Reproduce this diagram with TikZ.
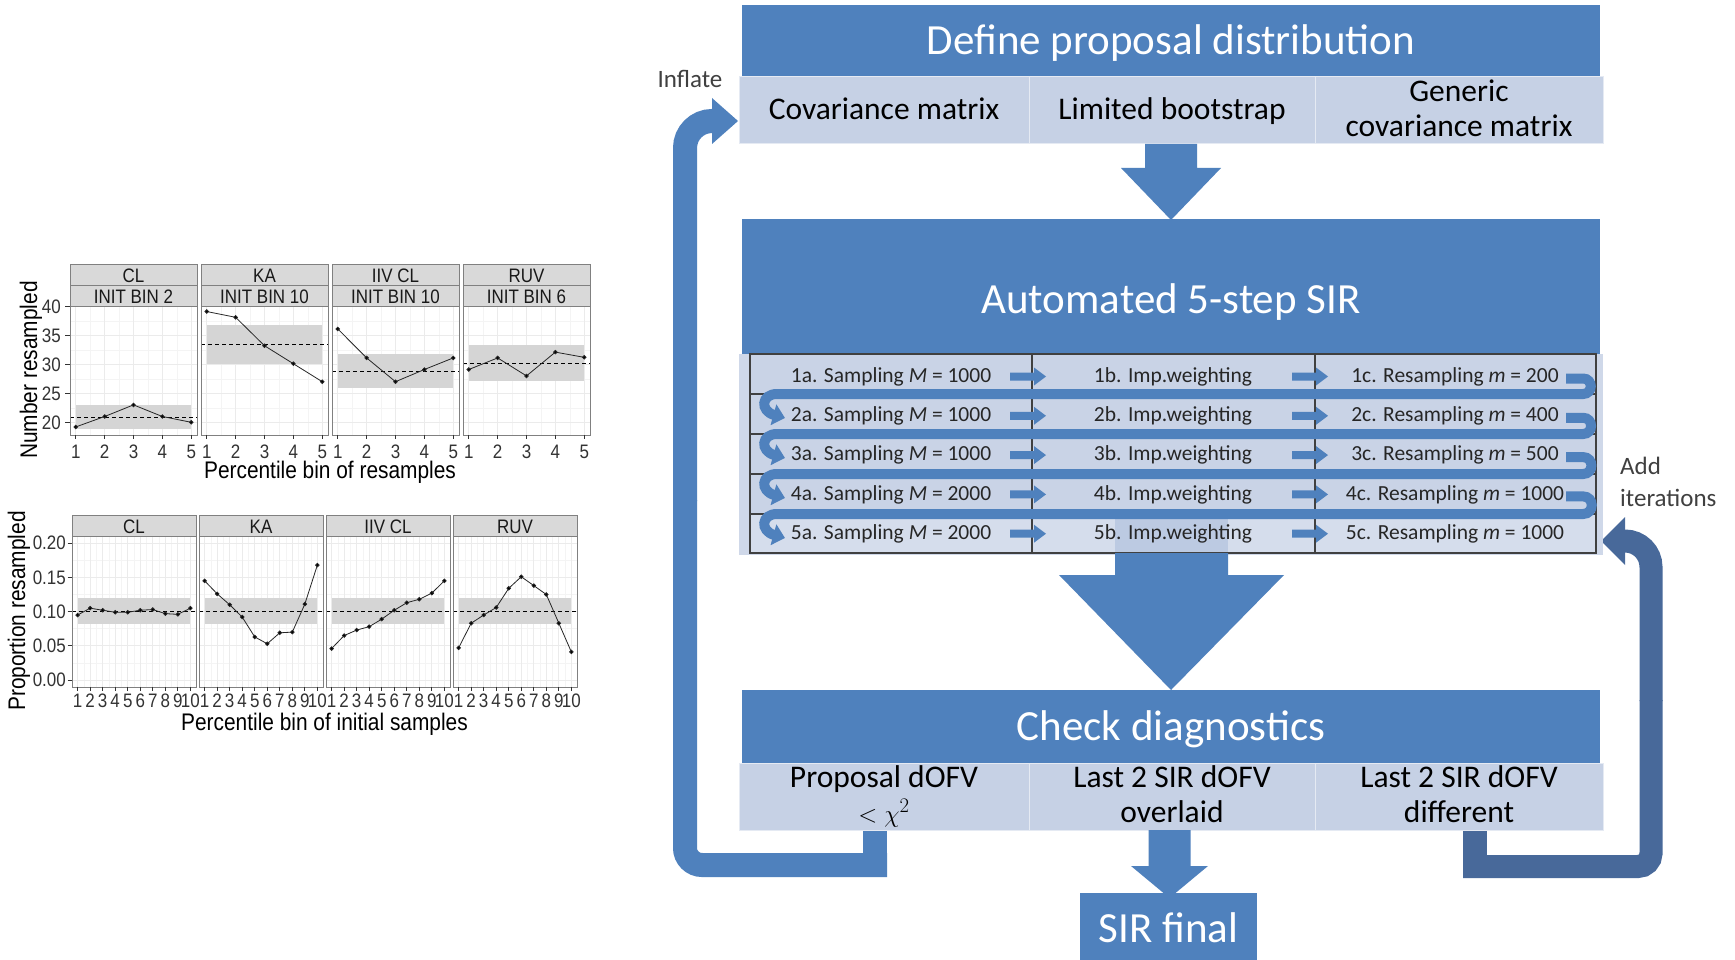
\documentclass[tikz,border=0pt]{standalone}
\usepackage{fontspec}
\setmainfont{Carlito}
\newfontfamily\plotfont{Liberation Sans}[FakeStretch=0.87]
\usetikzlibrary{arrows.meta}

\definecolor{boxblue}{HTML}{4F81BD}
\definecolor{cellblue}{HTML}{C6D1E5}
\definecolor{tablebg}{HTML}{CFD8E9}
\definecolor{rowblue}{HTML}{C9D3E6}
\definecolor{rowpale}{HTML}{D5DDEC}
\definecolor{shaftpale}{HTML}{BCCAE2}
\definecolor{loopdark}{HTML}{48699A}
\definecolor{stripgray}{HTML}{D9D9D9}
\definecolor{gridmaj}{HTML}{EBEBEB}
\definecolor{gridmin}{HTML}{F4F4F4}
\definecolor{bandgray}{HTML}{D5D5D5}
\definecolor{framegray}{HTML}{808080}
\definecolor{inkgray}{HTML}{333333}

\newcommand\setfs[2]{\fontsize{#1}{#2}\selectfont}

% one facet of the upper plot: #1 left edge, #2/#3 strip lines,
% #4/#5 shaded interval, #6 reference level, #7 points
\newcommand\TopPanel[7]{%
  \node[stripbox, minimum width=127pt, minimum height=21pt] at ({#1+63.5},274.5) {};
  \node[stripbox, minimum width=127pt, minimum height=21pt] at ({#1+63.5},295.5) {};
  \node[striptext] at ({#1+63.5},282) {#2};
  \node[striptext] at ({#1+63.5},303) {#3};
  \begin{scope}[shift={({#1-23.09},538.3)},x=28.864pt,y=5.8pt]
    \fill[white] (0.8,17.81) rectangle (5.2,40.05);
    \foreach \gx in {1.5,2.5,3.5,4.5} \draw[gridminor] (\gx,17.81) -- (\gx,40.05);
    \foreach \gy in {22.5,27.5,32.5,37.5} \draw[gridminor] (0.8,\gy) -- (5.2,\gy);
    \foreach \gx in {1,...,5} \draw[gridmajor] (\gx,17.81) -- (\gx,40.05);
    \foreach \gy in {20,25,30,35,40} \draw[gridmajor] (0.8,\gy) -- (5.2,\gy);
    \fill[bandgray] (1,#4) rectangle (5,#5);
    \draw[refline] (0.8,#6) -- (5.2,#6);
    \draw[dataline] plot coordinates {#7};
    \draw[panelframe] (0.8,17.81) rectangle (5.2,40.05);
    \foreach \gx in {1,...,5} {
      \draw[tickmark] (\gx,17.81) -- ++(0pt,-4pt);
      \path (\gx,17.81) ++(0pt,-23pt) node[ticklabel, anchor=base] {\gx};
    }
  \end{scope}}

% one facet of the lower plot: #1 left edge, #2 strip label, #3 points
\newcommand\BottomPanel[3]{%
  \node[stripbox, minimum width=124pt, minimum height=21pt] at ({#1+62},525.5) {};
  \node[striptext] at ({#1+62},533) {#2};
  \begin{scope}[shift={({#1-6.889},680)},x=12.525pt,y=684pt]
    \fill[white] (0.55,-0.0102) rectangle (10.45,0.2105);
    \foreach \gx in {1.5,2.5,...,9.5} \draw[gridminor] (\gx,-0.0102) -- (\gx,0.2105);
    \foreach \gy in {0.025,0.075,0.125,0.175} \draw[gridminor] (0.55,\gy) -- (10.45,\gy);
    \foreach \gx in {1,...,10} \draw[gridmajor] (\gx,-0.0102) -- (\gx,0.2105);
    \foreach \gy in {0,0.05,0.1,0.15,0.2} \draw[gridmajor] (0.55,\gy) -- (10.45,\gy);
    \fill[bandgray] (1,0.082) rectangle (10,0.120);
    \draw[refline] (0.55,0.1) -- (10.45,0.1);
    \draw[dataline] plot coordinates {#3};
    \draw[panelframe] (0.55,-0.0102) rectangle (10.45,0.2105);
    \foreach \gx in {1,...,10} {
      \draw[tickmark] (\gx,-0.0102) -- ++(0pt,-4pt);
      \path (\gx,-0.0102) ++(0pt,-21pt) node[ticklabel, anchor=base] {\gx};
    }
  \end{scope}}

\begin{document}
\begin{tikzpicture}[x=1pt,y=-1pt,
  bluebox/.style={fill=boxblue, inner sep=0pt, outer sep=0pt},
  cellbox/.style={fill=cellblue, draw=white!55!cellblue, line width=1pt, inner sep=0pt, outer sep=0pt},
  hdrtext/.style={text=white, font=\setfs{43}{50}, anchor=base, inner sep=0pt},
  celltext/.style={text=black, font=\setfs{31.5}{36}, anchor=base, inner sep=0pt},
  rowtext/.style={text=black!85, font=\setfs{21.5}{25}, anchor=base, inner sep=0pt},
  sidenote/.style={text=black!75, font=\setfs{25}{28}, inner sep=0pt},
  blockarrow/.style={fill=boxblue},
  tablerule/.style={draw=black!75, line width=1.2pt},
  serp/.style={draw=boxblue, line width=10pt, -{Triangle[length=12pt,width=21pt]}},
  loopband/.style={line width=24pt},
  stripbox/.style={fill=stripgray, draw=framegray, line width=0.8pt, inner sep=0pt, outer sep=0pt},
  striptext/.style={text=black!90, font=\plotfont\setfs{19.5}{22}, anchor=base, inner sep=0pt},
  ticklabel/.style={text=inkgray, font=\plotfont\setfs{19.5}{22}, inner sep=0pt},
  axistitle/.style={text=black, font=\plotfont\setfs{24}{27}, inner sep=0pt},
  gridmajor/.style={draw=gridmaj, line width=1pt},
  gridminor/.style={draw=gridmin, line width=0.6pt},
  panelframe/.style={draw=framegray, line width=0.8pt},
  refline/.style={draw=black, line width=0.8pt, dash pattern=on 4pt off 3pt},
  dataline/.style={draw=black!85, line width=0.8pt, mark=*, mark size=1.8pt, mark options={solid, fill=black}},
  tickmark/.style={draw=inkgray, line width=0.8pt},
]
\useasboundingbox (0,0) rectangle (1735,960);
\fill[white] (0,0) rectangle (1735,960);

% ---------------- upper facet plot ----------------
\TopPanel{70}{CL}{INIT BIN 2}{18.9}{22.9}{20.8}{(1,19.2) (2,21) (3,23) (4,21) (5,20)}
\TopPanel{201}{KA}{INIT BIN 10}{30.0}{36.8}{33.4}{(1,39.1) (2,38.1) (3,33.2) (4,30.1) (5,27)}
\TopPanel{332}{IIV CL}{INIT BIN 10}{26.0}{31.8}{28.7}{(1,36.1) (2,31.1) (3,27) (4,29.1) (5,31.1)}
\TopPanel{463}{RUV}{INIT BIN 6}{27.2}{33.3}{30.1}{(1,29.1) (2,31.1) (3,28) (4,32.1) (5,31.2)}
\foreach \v/\py in {20/422.3, 25/393.3, 30/364.3, 35/335.3, 40/306.3} {
  \node[ticklabel, anchor=east] at (61,\py) {\v};
  \draw[tickmark] (65,\py) -- (70,\py);
}
\node[axistitle, rotate=90] (ytop) at (31,370) {Number resampled};
\node[axistitle, anchor=base] (xtop) at (330,478) {Percentile bin of resamples};

% ---------------- lower facet plot ----------------
\BottomPanel{72}{CL}{(1,0.095) (2,0.105) (3,0.102) (4,0.099) (5,0.099) (6,0.102) (7,0.103) (8,0.097) (9,0.096) (10,0.105)}
\BottomPanel{199}{KA}{(1,0.145) (2,0.126) (3,0.110) (4,0.092) (5,0.063) (6,0.053) (7,0.069) (8,0.070) (9,0.111) (10,0.168)}
\BottomPanel{326}{IIV CL}{(1,0.046) (2,0.065) (3,0.073) (4,0.078) (5,0.089) (6,0.102) (7,0.113) (8,0.118) (9,0.127) (10,0.145)}
\BottomPanel{453}{RUV}{(1,0.047) (2,0.083) (3,0.095) (4,0.106) (5,0.134) (6,0.151) (7,0.138) (8,0.125) (9,0.083) (10,0.041)}
\foreach \v/\py in {0.00/680, 0.05/645.8, 0.10/611.6, 0.15/577.4, 0.20/543.2} {
  \node[ticklabel, anchor=east] at (66,\py) {\v};
  \draw[tickmark] (67.5,\py) -- (72,\py);
}
\node[axistitle, rotate=90] (ybot) at (19,611) {Proportion resampled};
\node[axistitle, anchor=base] (xbot) at (324.5,730.5) {Percentile bin of initial samples};

% ---------------- feedback loops (behind the boxes) ----------------
\fill[boxblue] (863,830) rectangle (887,877);
\draw[boxblue, loopband, rounded corners=17pt] (887,865) -- (685,865) -- (685,500);
\draw[boxblue, loopband, rounded corners=27pt] (685,501) -- (685,121) -- (713,121);
\fill[boxblue] (712,98) -- (738,121) -- (712,144) -- cycle;

\fill[loopdark] (1463,830) rectangle (1487,878);
\draw[loopdark, line width=23pt, rounded corners=13pt] (1463,866.5) -- (1651,866.5) -- (1651,700);
\draw[loopdark, line width=23pt, rounded corners=26pt] (1651,701) -- (1651,541) -- (1623,541);
\fill[loopdark] (1625,517) -- (1601,541) -- (1625,565) -- cycle;

% ---------------- proposal distribution ----------------
\node[bluebox, minimum width=858pt, minimum height=72pt] (define) at (1171,41) {};
\node[hdrtext] (defineT) at (1171,55) {Define proposal distribution};
\node[cellbox, minimum width=290pt, minimum height=67pt] (covcell) at (884,110.5) {};
\node[cellbox, minimum width=286pt, minimum height=67pt] (bootcell) at (1172,110.5) {};
\node[cellbox, minimum width=288pt, minimum height=67pt] (genericcell) at (1459,110.5) {};
\node[celltext] (covT) at (884,120) {Covariance matrix};
\node[celltext] (bootT) at (1172,120) {Limited bootstrap};
\node[celltext] (genT1) at (1459,102) {Generic};
\node[celltext] (genT2) at (1459,137) {covariance matrix};

\fill[blockarrow] (1145,144) -- (1197,144) -- (1197,168) -- (1221,168) -- (1171,220) -- (1121,168) -- (1145,168) -- cycle;

% ---------------- automated SIR ----------------
\node[bluebox, minimum width=858pt, minimum height=135pt] (auto) at (1171,286.5) {};
\node[hdrtext] (autoT) at (1171,313) {Automated 5-step SIR};

\fill[tablebg] (739,354) rectangle (1603,555);
\fill[rowblue] (750,354) rectangle (1596,514);
\fill[rowpale] (750,514) rectangle (1596,553);
\fill[shaftpale] (1115,514) rectangle (1228,553);
\draw[tablerule] (750,354) rectangle (1596,553);
\foreach \cx in {1032,1315} \draw[tablerule] (\cx,354) -- (\cx,553);
\foreach \ry in {394,434,474,514} \draw[tablerule] (750,\ry) -- (1596,\ry);

\foreach \k/\yc/\Ms/\ms in {1/375.5/1000/200, 2/414.8/1000/400, 3/454.1/1000/500, 4/493.4/2000/1000, 5/532.7/2000/1000} {
  \node[rowtext] (a\k) at (891,{\yc+6.8}) {\k a. Sampling \textit{M} = \Ms};
  \node[rowtext] (b\k) at (1173,{\yc+6.8}) {\k b. Imp.weighting};
  \node[rowtext] (c\k) at (1455,{\yc+6.8}) {\k c. Resampling \textit{m} = \ms};
  \fill[blockarrow] (1010,{\yc-3}) -- (1034,{\yc-3}) -- (1034,{\yc-8}) -- (1046,{\yc+1}) -- (1034,{\yc+10}) -- (1034,{\yc+5}) -- (1010,{\yc+5}) -- cycle;
  \fill[blockarrow] (1292,{\yc-3}) -- (1316,{\yc-3}) -- (1316,{\yc-8}) -- (1328,{\yc+1}) -- (1316,{\yc+10}) -- (1316,{\yc+5}) -- (1292,{\yc+5}) -- cycle;
}
\foreach \yt/\yb in {378.5/394, 417.8/434, 457.1/474, 496.4/514}
  \draw[serp] (1566,\yt) -- (1583,\yt) to[out=0,in=0,looseness=1.7] (1583,\yb) -- (777,\yb) .. controls (761,\yb) and (760,{\yb+17}) .. (785,{\yb+24});

\fill[blockarrow] (1115,553) -- (1228,553) -- (1228,575) -- (1284,575) -- (1171,690) -- (1059,575) -- (1115,575) -- cycle;

% ---------------- diagnostics ----------------
\node[bluebox, minimum width=858pt, minimum height=73pt] (check) at (1171,726.5) {};
\node[hdrtext] (checkT) at (1171,740) {Check diagnostics};
\node[cellbox, minimum width=290pt, minimum height=67pt] (propcell) at (884,796.5) {};
\node[cellbox, minimum width=286pt, minimum height=67pt] (overcell) at (1172,796.5) {};
\node[cellbox, minimum width=288pt, minimum height=67pt] (diffcell) at (1459,796.5) {};
\node[celltext] (propT1) at (884,787) {Proposal dOFV};
\node[celltext] (propT2) at (884,822) {$<\chi^2$};
\node[celltext] (overT1) at (1172,787) {Last 2 SIR dOFV};
\node[celltext] (overT2) at (1172,822) {overlaid};
\node[celltext] (diffT1) at (1459,787) {Last 2 SIR dOFV};
\node[celltext] (diffT2) at (1459,822) {different};

\fill[blockarrow] (1148.5,830) -- (1190.5,830) -- (1190.5,866) -- (1208,866) -- (1169.5,898) -- (1131,866) -- (1148.5,866) -- cycle;

\node[bluebox, minimum width=177pt, minimum height=70pt] (final) at (1168.5,928) {};
\node[hdrtext] (finalT) at (1168.5,942) {SIR final};

% ---------------- loop labels ----------------
\node[sidenote, anchor=base] (inflateT) at (690,88) {Inflate};
\node[sidenote, anchor=base west] (addT1) at (1620,474) {Add};
\node[sidenote, anchor=base west] (addT2) at (1620,506) {iterations};
\end{tikzpicture}
\end{document}
